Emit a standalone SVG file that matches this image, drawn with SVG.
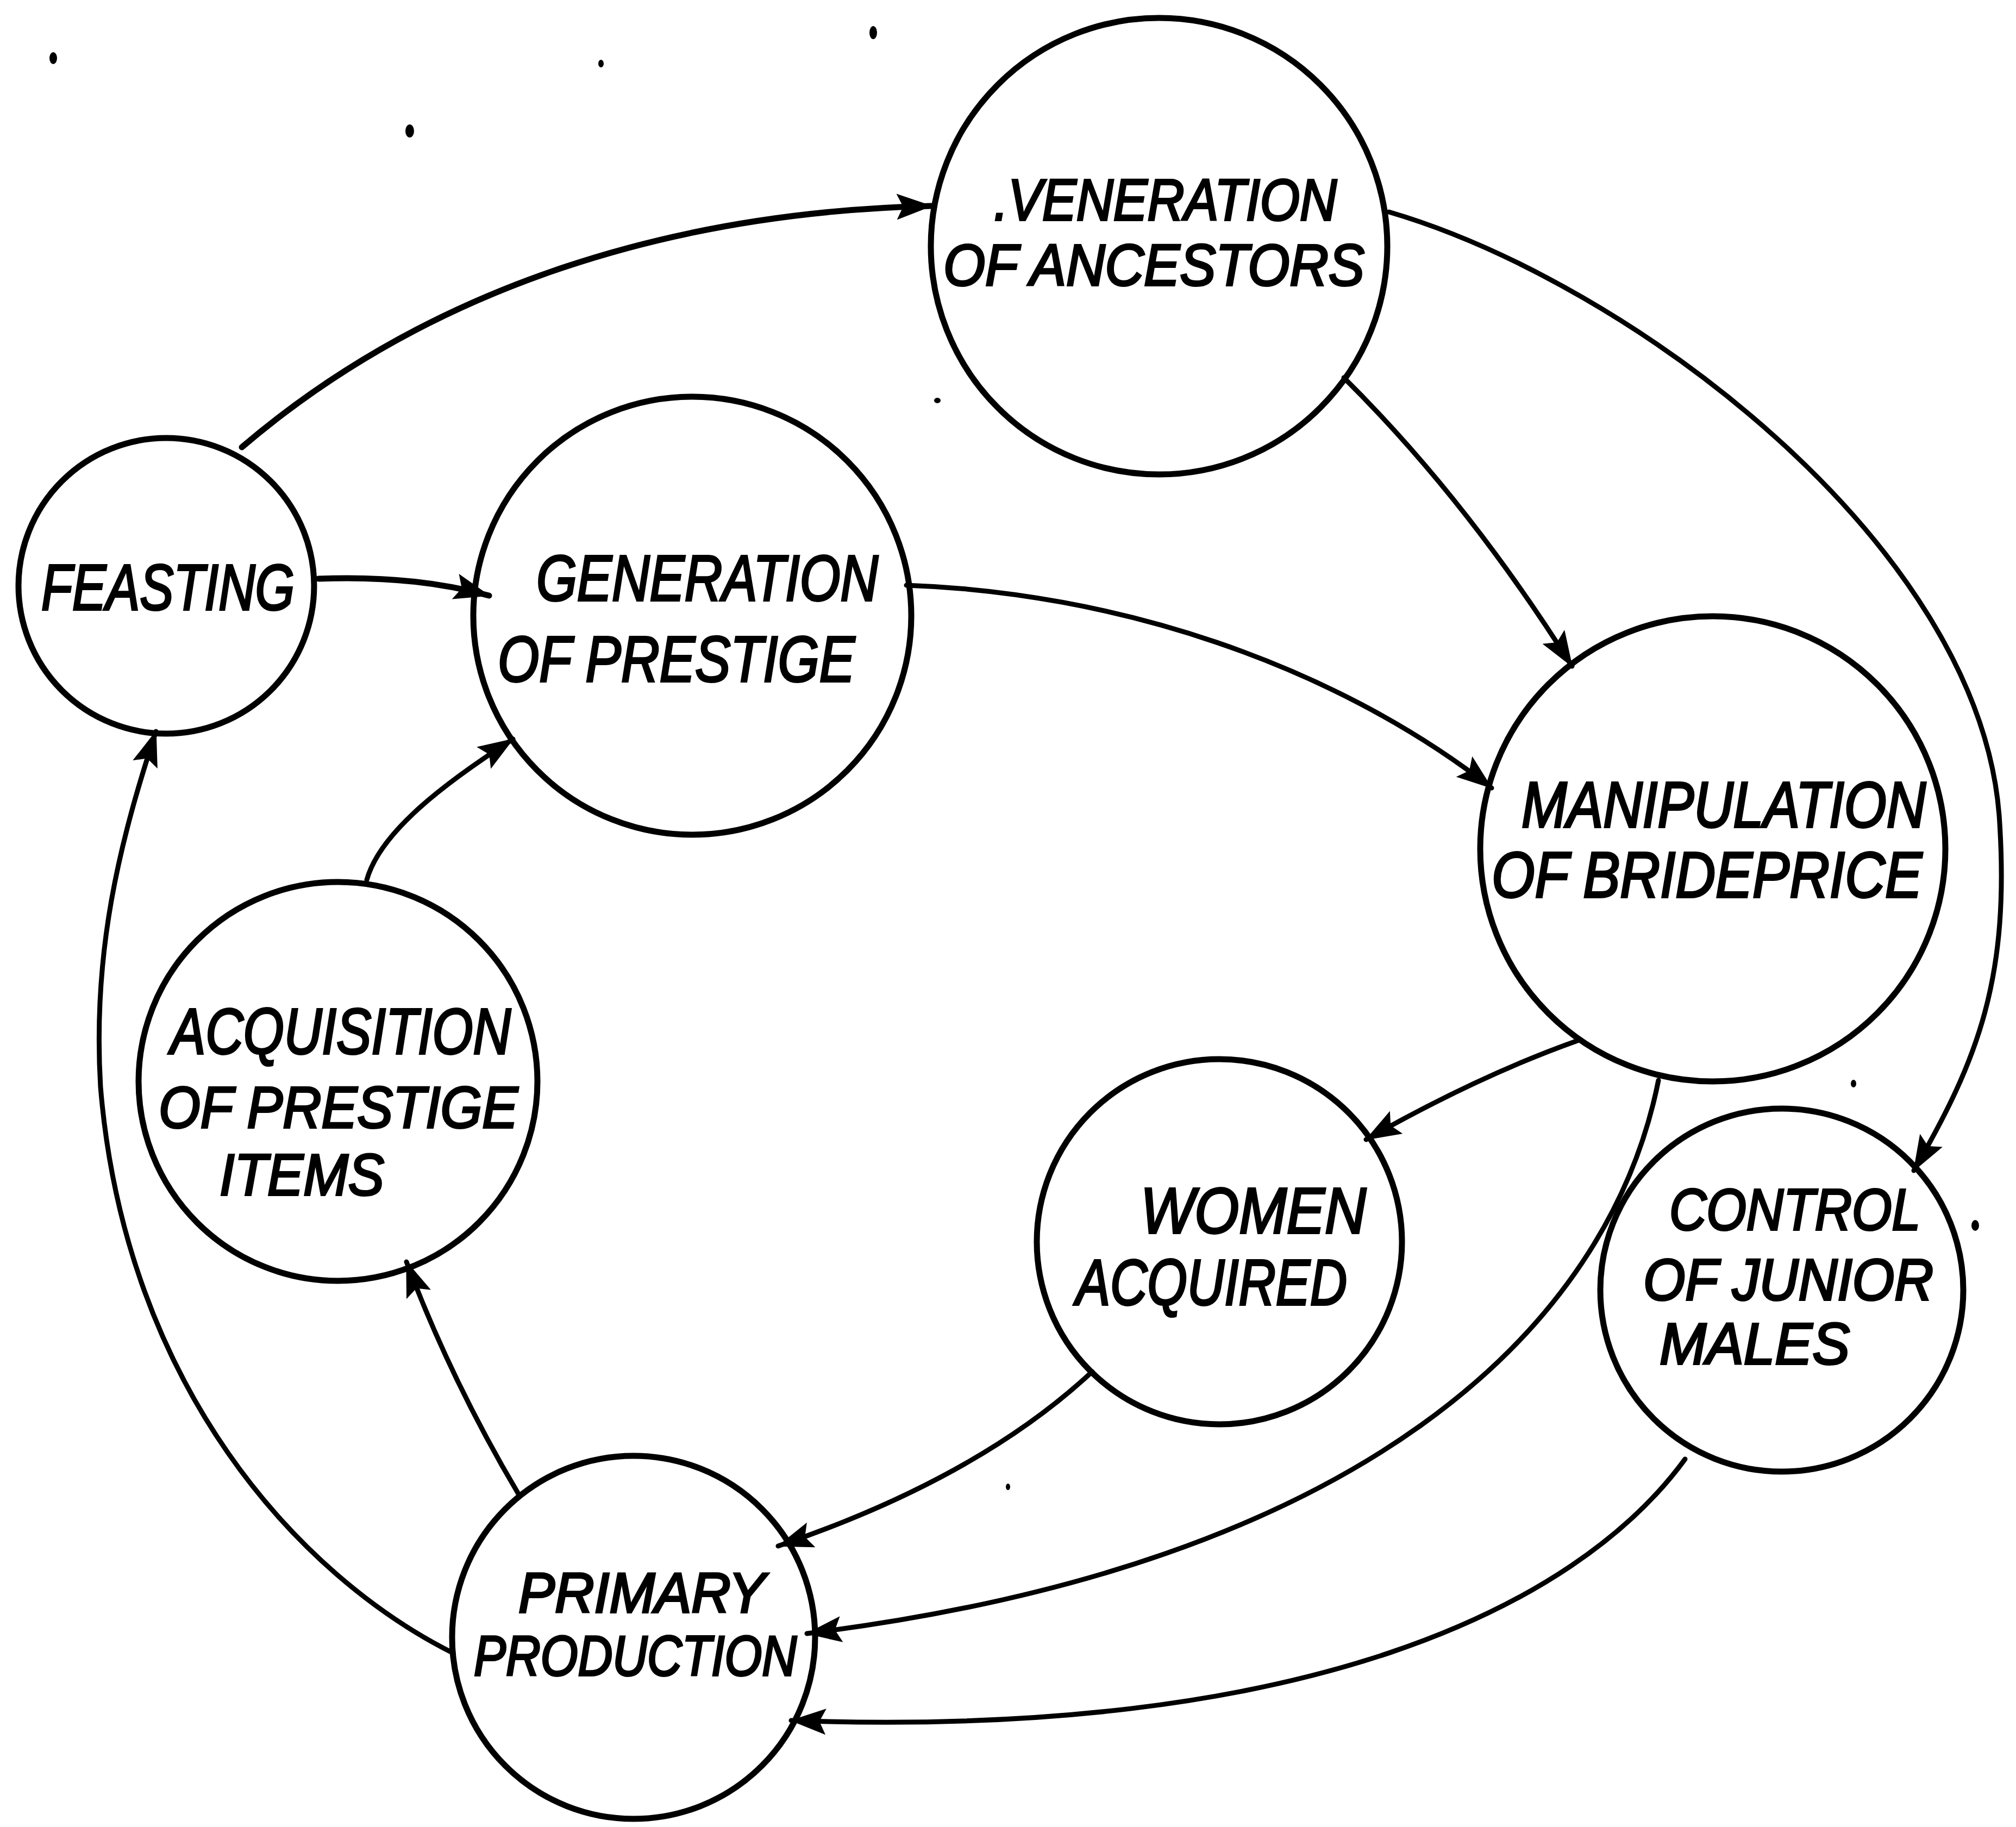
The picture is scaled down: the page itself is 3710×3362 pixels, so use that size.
<svg xmlns="http://www.w3.org/2000/svg" width="3710" height="3362" viewBox="0 0 3710 3362">
  <style>
    .node { fill: none; stroke: #000; stroke-width: 11; }
    .lbl { font-family: "Liberation Sans", "DejaVu Sans", sans-serif; font-style: italic; font-size: 118px; fill: #000; stroke: #000; stroke-width: 4; }
    .sm { font-size: 108px; }
    .edge { fill: none; stroke: #000; stroke-width: 9; stroke-linecap: round; }
    .speck { fill: #000; }
  </style>
  <defs>
    <marker id="arrow" markerUnits="userSpaceOnUse" markerWidth="70" markerHeight="50" refX="64" refY="24" orient="auto">
      <path d="M0,0 L66,24 L0,48 L12,24 Z" fill="#000"/>
    </marker>
  </defs>
  <rect width="3710" height="3362" fill="#fff"/>

  <!-- stray specks -->
  <g id="specks">
    <ellipse class="speck" cx="98" cy="107" rx="7" ry="11"/>
    <ellipse class="speck" cx="1106" cy="117" rx="5" ry="7"/>
    <ellipse class="speck" cx="754" cy="241" rx="8" ry="12"/>
    <ellipse class="speck" cx="1607" cy="60" rx="7" ry="12"/>
    <ellipse class="speck" cx="1725" cy="737" rx="6" ry="5"/>
    <ellipse class="speck" cx="3411" cy="1994" rx="5" ry="7"/>
    <ellipse class="speck" cx="3635" cy="2255" rx="7" ry="10"/>
    <ellipse class="speck" cx="1855" cy="2736" rx="4" ry="6"/>
  </g>

  <g id="nodes">
    <g id="veneration">
      <circle class="node" cx="2133" cy="453" r="420"/>
      <text class="lbl sm" x="1829" y="405" textLength="631" lengthAdjust="spacingAndGlyphs">.VENERATION</text>
      <text class="lbl sm" x="1736" y="525" textLength="775" lengthAdjust="spacingAndGlyphs">OF ANCESTORS</text>
    </g>
    <g id="feasting">
      <circle class="node" cx="306" cy="1078" r="272"/>
      <text class="lbl" x="76" y="1122" textLength="466" lengthAdjust="spacingAndGlyphs">FEASTING</text>
    </g>
    <g id="generation">
      <circle class="node" cx="1274" cy="1133" r="403"/>
      <text class="lbl" x="987" y="1105" textLength="629" lengthAdjust="spacingAndGlyphs">GENERATION</text>
      <text class="lbl" x="916" y="1254" textLength="657" lengthAdjust="spacingAndGlyphs">OF PRESTIGE</text>
    </g>
    <g id="manipulation">
      <circle class="node" cx="3152" cy="1562" r="428"/>
      <text class="lbl" x="2800" y="1522" textLength="744" lengthAdjust="spacingAndGlyphs">MANIPULATION</text>
      <text class="lbl" x="2745" y="1651" textLength="792" lengthAdjust="spacingAndGlyphs">OF BRIDEPRICE</text>
    </g>
    <g id="acquisition">
      <circle class="node" cx="622" cy="1990" r="367"/>
      <text class="lbl" x="314" y="1939" textLength="626" lengthAdjust="spacingAndGlyphs">ACQUISITION</text>
      <text class="lbl sm" x="292" y="2075" textLength="661" lengthAdjust="spacingAndGlyphs">OF PRESTIGE</text>
      <text class="lbl sm" x="404" y="2199" textLength="303" lengthAdjust="spacingAndGlyphs">ITEMS</text>
    </g>
    <g id="women">
      <circle class="node" cx="2244" cy="2285" r="336"/>
      <text class="lbl" x="2099" y="2269" textLength="415" lengthAdjust="spacingAndGlyphs">WOMEN</text>
      <text class="lbl" x="1980" y="2401" textLength="499" lengthAdjust="spacingAndGlyphs">ACQUIRED</text>
    </g>
    <g id="control">
      <circle class="node" cx="3279" cy="2374" r="334"/>
      <text class="lbl sm" x="3072" y="2263" textLength="462" lengthAdjust="spacingAndGlyphs">CONTROL</text>
      <text class="lbl sm" x="3024" y="2392" textLength="534" lengthAdjust="spacingAndGlyphs">OF JUNIOR</text>
      <text class="lbl sm" x="3054" y="2510" textLength="350" lengthAdjust="spacingAndGlyphs">MALES</text>
    </g>
    <g id="primary">
      <circle class="node" cx="1166" cy="3013" r="334"/>
      <text class="lbl sm" x="954" y="2967" textLength="454" lengthAdjust="spacingAndGlyphs" style="font-size:104px">PRIMARY</text>
      <text class="lbl sm" x="872" y="3083" textLength="594" lengthAdjust="spacingAndGlyphs" style="font-size:104px">PRODUCTION</text>
    </g>
  </g>

  <g id="connectors">
    <!-- feasting to veneration -->
    <path class="edge" d="M445,823 C800,520 1250,390 1714,379" marker-end="url(#arrow)" style="stroke-width:11"/>
    <!-- veneration to manipulation -->
    <path class="edge" d="M2473,695 Q2700,920 2893,1226" marker-end="url(#arrow)"/>
    <!-- veneration to control of junior males -->
    <path class="edge" d="M2556,390 C3000,520 3640,1000 3679,1500 C3700,1800 3640,1950 3522,2154" marker-end="url(#arrow)"/>
    <!-- feasting to generation of prestige -->
    <path class="edge" d="M586,1065 Q760,1058 900,1096" marker-end="url(#arrow)" style="stroke-width:11"/>
    <!-- generation of prestige to manipulation -->
    <path class="edge" d="M1668,1077 C2050,1090 2450,1220 2745,1450" marker-end="url(#arrow)"/>
    <!-- manipulation to women acquired -->
    <path class="edge" d="M2903,1915 Q2720,1980 2514,2097" marker-end="url(#arrow)"/>
    <!-- manipulation to primary production -->
    <path class="edge" d="M3052,1988 C2960,2450 2500,2880 1485,3006" marker-end="url(#arrow)"/>
    <!-- women acquired to primary production -->
    <path class="edge" d="M2010,2524 Q1800,2720 1432,2845" marker-end="url(#arrow)"/>
    <!-- control of junior males to primary production -->
    <path class="edge" d="M3101,2685 C2900,2960 2400,3200 1456,3166" marker-end="url(#arrow)"/>
    <!-- primary production to acquisition -->
    <path class="edge" d="M954,2749 Q830,2540 748,2322" marker-end="url(#arrow)"/>
    <!-- primary production to feasting -->
    <path class="edge" d="M834,3042 C550,2900 230,2550 185,2000 C170,1750 220,1550 287,1346" marker-end="url(#arrow)"/>
    <!-- acquisition to generation of prestige -->
    <path class="edge" d="M675,1619 C700,1530 820,1440 944,1360" marker-end="url(#arrow)"/>
  </g>
</svg>
